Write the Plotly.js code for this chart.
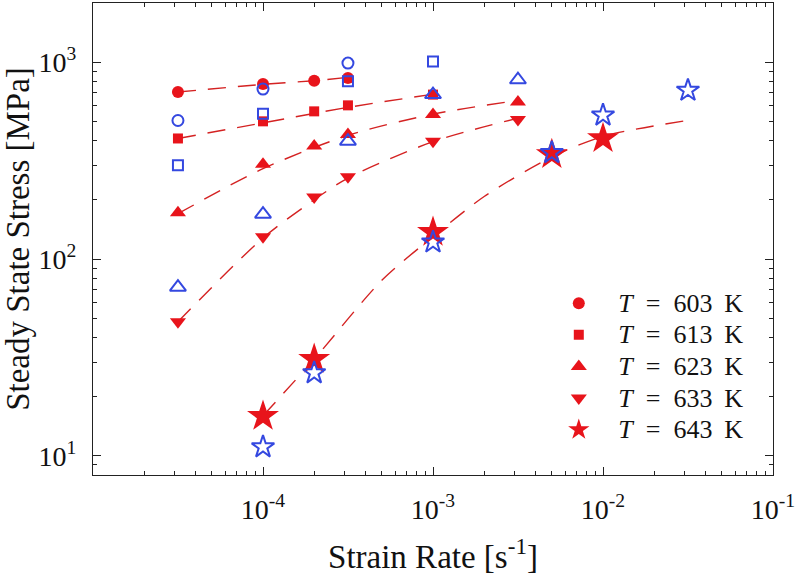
<!DOCTYPE html>
<html>
<head>
<meta charset="utf-8">
<script src="https://cdn.plot.ly/plotly-3.0.1.min.js"></script>
<style>html,body{margin:0;padding:0;background:#fff;}#chart{width:796px;height:582px;}</style>
</head>
<body>
<div id="chart"></div>
<script>
// Strain rates [1/s]
var rate603 = [3.16e-5, 1e-4, 2e-4, 3.16e-4];
var stress603 = [706, 776, 806, 832];
var rate613 = [3.16e-5, 1e-4, 2e-4, 3.16e-4, 1e-3];
var stress613 = [410, 501, 563, 604, 685];
var rate623 = [3.16e-5, 1e-4, 2e-4, 3.16e-4, 1e-3, 3.16e-3];
var stress623 = [172, 303, 375, 430, 542, 629];
var rate633 = [3.16e-5, 1e-4, 2e-4, 3.16e-4, 1e-3, 3.16e-3];
var stress633 = [48, 130, 207, 262, 397, 512];
var rate643 = [1e-4, 2e-4, 1e-3, 5e-3, 1e-2];
var stress643 = [15.9, 31, 137, 340, 410];

// Open (blue) comparison data
var rateB603 = [3.16e-5, 1e-4, 3.16e-4];
var stressB603 = [506, 731, 990];
var rateB613 = [3.16e-5, 1e-4, 3.16e-4, 1e-3];
var stressB613 = [300, 547, 800, 1009];
var rateB623 = [3.16e-5, 1e-4, 3.16e-4, 1e-3, 3.16e-3];
var stressB623 = [72, 169, 397, 685, 815];
var rateB643 = [1e-4, 2e-4, 1e-3, 5e-3, 1e-2, 3.16e-2];
var stressB643 = [11.1, 26.4, 122, 347, 538, 720];

// Dashed fit curves
var fitRate603 = [3.16e-5, 1e-4, 2e-4, 3.16e-4];
var fitStress603 = [706, 772, 806, 838];
var fitRate613 = [3.16e-5, 1e-4, 3.16e-4, 1e-3];
var fitStress613 = [410, 492, 590, 688];
var fitRate623 = [3.16e-5, 1e-4, 3.16e-4, 1e-3, 3.16e-3];
var fitStress623 = [170, 288, 425, 545, 640];
var fitRate633 = [3.16e-5, 1e-4, 2e-4, 3.16e-4, 1e-3, 3.16e-3];
var fitStress633 = [48, 128, 200, 258, 395, 520];
var fitRate643 = [1e-4, 2e-4, 5e-4, 1e-3, 2e-3, 5e-3, 1e-2, 3.16e-2];
var fitStress643 = [16, 31, 78, 130, 208, 330, 420, 507];

// Tick labels
var xTickVals = [1e-4, 1e-3, 1e-2, 1e-1];
var xTickText = ['10<sup>-4</sup>', '10<sup>-3</sup>', '10<sup>-2</sup>', '10<sup>-1</sup>'];
var yTickVals = [10, 100, 1000];
var yTickText = ['10<sup>1</sup>', '10<sup>2</sup>', '10<sup>3</sup>'];

var legendNames = ['603', '613', '623', '633', '643'];

var RED = '#e8141b';
var LINE = '#d42222';
var BLUE = '#3448e0';
var FONT = 'Liberation Serif';

function minorVals(lo, hi) {
  var v = [];
  for (var e = lo; e < hi; e++) for (var k = 2; k <= 9; k++) v.push(k * Math.pow(10, e));
  return v;
}
function legendLabel(t) {
  return '<span style="font-size:26px">\u00A0\u00A0\u00A0<i>T</i>\u00A0\u00A0=\u00A0\u00A0' + t + '\u00A0\u2009K</span>';
}

function fit(x, y) {
  return {x: x, y: y, type: 'scatter', mode: 'lines', showlegend: false, hoverinfo: 'skip',
    line: {color: LINE, width: 1.4, dash: '18px,12px', shape: 'spline', smoothing: 0.8}};
}
function red(x, y, name, sym, size) {
  return {x: x, y: y, type: 'scatter', mode: 'markers', name: legendLabel(name),
    marker: {symbol: sym, size: size, color: RED, line: {width: 0}}};
}
function blue(x, y, sym, size) {
  return {x: x, y: y, type: 'scatter', mode: 'markers', showlegend: false,
    marker: {symbol: sym, size: size, color: BLUE, line: {color: BLUE, width: 2}}};
}

var data = [
  fit(fitRate603, fitStress603),
  fit(fitRate613, fitStress613),
  fit(fitRate623, fitStress623),
  fit(fitRate633, fitStress633),
  fit(fitRate643, fitStress643),
  red(rate603, stress603, legendNames[0], 'circle', 12),
  red(rate613, stress613, legendNames[1], 'square', 10),
  red(rate623, stress623, legendNames[2], 'triangle-up', 14),
  red(rate633, stress633, legendNames[3], 'triangle-down', 14),
  red(rate643, stress643, legendNames[4], 'star', 24),
  blue(rateB603, stressB603, 'circle-open', 11),
  blue(rateB613, stressB613, 'square-open', 10),
  blue(rateB623, stressB623, 'triangle-up-open', 14),
  blue(rateB643, stressB643, 'star-open', 17)
];

function axis(tv, tt, mv) {
  return {
    type: 'log', showgrid: false, zeroline: false,
    showline: true, linecolor: '#222', linewidth: 1, mirror: 'ticks',
    ticks: 'inside', ticklen: 8, tickwidth: 1, tickcolor: '#222',
    tickmode: 'array', tickvals: tv, ticktext: tt, ticklabeloverflow: 'allow',
    minor: {tickmode: 'array', tickvals: mv, ticks: 'inside', ticklen: 4, tickwidth: 1, tickcolor: '#222', showgrid: false},
    tickfont: {family: FONT, size: 28, color: '#111'}
  };
}

var layout = {
  width: 796, height: 582,
  margin: {l: 93, r: 23, t: 3, b: 107},
  paper_bgcolor: '#fff', plot_bgcolor: '#fff',
  font: {family: FONT, color: '#111'},
  xaxis: Object.assign(axis(xTickVals, xTickText, minorVals(-5, -1)), {
    range: [-5, -1], ticklabelstandoff: 9,
    title: {text: 'Strain Rate [s<sup>-1</sup>]', font: {family: FONT, size: 33, color: '#111'}, standoff: 21}
  }),
  yaxis: Object.assign(axis(yTickVals, yTickText, minorVals(0, 3)), {
    range: [Math.log10(8), Math.log10(2000)], ticklabelstandoff: 10,
    title: {text: 'Steady State Stress [MPa]', font: {family: FONT, size: 33, color: '#111'}, standoff: 1}
  }),
  legend: {
    x: 0.685, y: 0.408, xanchor: 'left', yanchor: 'top',
    bgcolor: 'rgba(0,0,0,0)', borderwidth: 0,
    font: {family: FONT, size: 22, color: '#111'},
    itemsizing: 'trace'
  },
  showlegend: true
};

Plotly.newPlot('chart', data, layout, {displayModeBar: false, staticPlot: true});
</script>
</body>
</html>
